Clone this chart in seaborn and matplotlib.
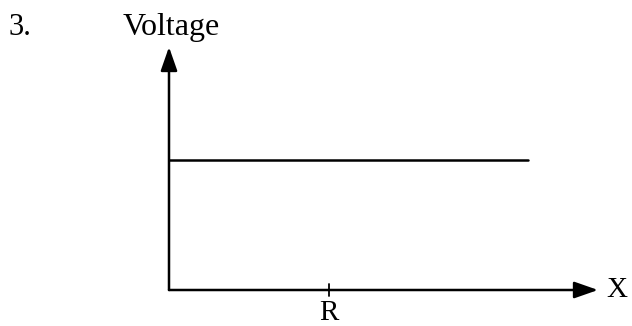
import matplotlib
matplotlib.use('Agg')
import matplotlib.pyplot as plt
import seaborn as sns
import pandas as pd

sns.set_style('white')
plt.rcParams['font.family'] = ['Liberation Serif', 'DejaVu Serif']
plt.rcParams['text.color'] = 'black'

# data (arbitrary units, axes run 0..10)
x_max = 10
y_max = 10
line_x = [0, 8.37]
voltage = [5.35, 5.35]
tick_pos = [3.73]
tick_labels = ['R']
number_label = '3.'
y_label = 'Voltage'
x_label = 'X'

df = pd.DataFrame({'x': line_x, 'v': voltage})

fig = plt.figure(figsize=(6.32, 3.26), dpi=100)
ax = fig.add_axes([169 / 632, 36 / 326, 429 / 632, 243 / 326])
ax.set_xlim(0, x_max)
ax.set_ylim(0, y_max)
for s in ax.spines.values():
    s.set_visible(False)
ax.set_xticks([])
ax.set_yticks([])
ax.patch.set_alpha(0)

sns.lineplot(data=df, x='x', y='v', color='black', linewidth=1.8, ax=ax)
ax.set_xlabel('')
ax.set_ylabel('')

# axis arrows
arrow = dict(arrowstyle='-|>,head_length=1.0,head_width=0.35', mutation_scale=14.5,
             color='black', lw=1.8, shrinkA=0, shrinkB=0)
ax.annotate('', xy=(x_max, 0), xytext=(0, 0), arrowprops=arrow, annotation_clip=False)
ax.annotate('', xy=(0, y_max), xytext=(0, 0), arrowprops=arrow, annotation_clip=False)

# tick mark for R
for t, lab in zip(tick_pos, tick_labels):
    ax.plot([t, t], [-0.25, 0.25], color='black', lw=1.3, clip_on=False)
    ax.annotate(lab, xy=(t, 0), xytext=(0, -7.5), textcoords='offset points',
                ha='center', va='top', fontsize=21, color='black', annotation_clip=False)

ax.annotate(x_label, xy=(x_max, 0), xytext=(6, 0), textcoords='offset points',
            ha='left', va='center', fontsize=21, color='black', annotation_clip=False)

fig.text(171 / 632, 1 - 35 / 326, y_label, ha='center', va='baseline', fontsize=23, color='black')
fig.text(8 / 632, 1 - 35 / 326, number_label, ha='left', va='baseline', fontsize=22, color='black')

fig.savefig('out.png', dpi=100)
